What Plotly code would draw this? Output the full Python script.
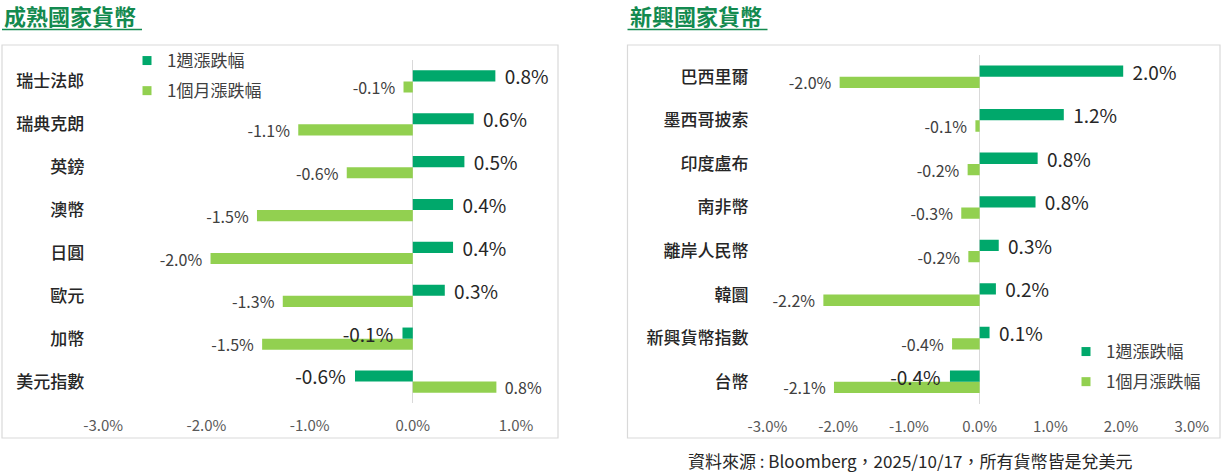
import plotly.graph_objects as go

# ---------------- data ----------------
dev_categories = ["瑞士法郎", "瑞典克朗", "英鎊", "澳幣", "日圓", "歐元", "加幣", "美元指數"]
dev_week = [0.80, 0.59, 0.50, 0.39, 0.39, 0.31, -0.10, -0.56]
dev_month = [-0.09, -1.11, -0.64, -1.51, -1.96, -1.26, -1.46, 0.81]

em_categories = ["巴西里爾", "墨西哥披索", "印度盧布", "南非幣", "離岸人民幣", "韓圜", "新興貨幣指數", "台幣"]
em_week = [2.03, 1.19, 0.82, 0.79, 0.27, 0.23, 0.14, -0.42]
em_month = [-1.98, -0.06, -0.17, -0.26, -0.16, -2.21, -0.39, -2.06]

series_names = ["1週漲跌幅", "1個月漲跌幅"]
panel_titles = ["成熟國家貨幣", "新興國家貨幣"]
source_note = "資料來源 : Bloomberg，2025/10/17，所有貨幣皆是兌美元"
dev_ticks = [-3, -2, -1, 0, 1]
em_ticks = [-3, -2, -1, 0, 1, 2, 3]

# ---------------- style ----------------
W, H = 1224, 473
FONT = "Noto Sans CJK TC, Noto Sans, sans-serif"
WEEK_COLOR = "#00A86B"
MONTH_COLOR = "#92D050"
TITLE_COLOR = "#138A4F"
BOX_COLOR = "#D9D9D9"
PAD = "\u2004"
BAR_W = 0.26


def px_x(p):
    return p / W


def px_y(p):
    return 1 - p / H


def labels(vals):
    out = []
    for v in vals:
        s = f"{v:.1f}%"
        out.append(PAD + s if v >= 0 else s + PAD)
    return out


def tick_text(ticks):
    return [f"{t:.1f}%" for t in ticks]


def bar(vals, cats, color, name, xa, ya, size, fcolor, offset):
    return go.Bar(
        x=vals, y=cats, orientation="h", name=name,
        marker=dict(color=color, line=dict(width=0)),
        width=BAR_W, offset=offset,
        text=labels(vals), textposition="outside",
        textfont=dict(size=size, color=fcolor, family=FONT),
        constraintext="none", cliponaxis=False,
        showlegend=False, hoverinfo="skip",
        xaxis=xa, yaxis=ya,
    )


def legend_marker(color, name, xa, ya, legend, group):
    return go.Scatter(
        x=[None], y=[None], mode="markers", name=name,
        marker=dict(symbol="square", size=9, color=color),
        legend=legend, legendgroup=group, showlegend=True,
        xaxis=xa, yaxis=ya, hoverinfo="skip",
    )


fig = go.Figure()
# month bars drawn first (lower half of each row), week bars on top half, drawn last
fig.add_trace(bar(dev_month, dev_categories, MONTH_COLOR, series_names[1], "x", "y", 16, "#404040", 0))
fig.add_trace(bar(dev_week, dev_categories, WEEK_COLOR, series_names[0], "x", "y", 19, "#262626", -BAR_W))
fig.add_trace(bar(em_month, em_categories, MONTH_COLOR, series_names[1], "x2", "y2", 16, "#404040", 0))
fig.add_trace(bar(em_week, em_categories, WEEK_COLOR, series_names[0], "x2", "y2", 19, "#262626", -BAR_W))

fig.add_trace(legend_marker(WEEK_COLOR, series_names[0], "x", "y", "legend", "w"))
fig.add_trace(legend_marker(MONTH_COLOR, series_names[1], "x", "y", "legend", "m"))
fig.add_trace(legend_marker(WEEK_COLOR, series_names[0], "x2", "y2", "legend2", "w2"))
fig.add_trace(legend_marker(MONTH_COLOR, series_names[1], "x2", "y2", "legend2", "m2"))

xaxis_common = dict(
    showgrid=False, zeroline=True, zerolinecolor=BOX_COLOR, zerolinewidth=1,
    showline=False, ticks="", tickmode="array",
    tickfont=dict(size=15, color="#595959", family=FONT),
    ticklabelstandoff=12, fixedrange=True, automargin=False,
)
yaxis_common = dict(
    type="category", autorange="reversed", showgrid=False, zeroline=False,
    showline=False, ticks="",
    tickfont=dict(size=17, color="#262626", family=FONT, weight=500),
    ticklabelstandoff=18, fixedrange=True, automargin=False,
)

legend_common = dict(
    bgcolor="rgba(0,0,0,0)", borderwidth=0, traceorder="grouped",
    tracegroupgap=5, itemwidth=30, xanchor="left", yanchor="top",
    font=dict(size=17, color="#404040", family=FONT),
)

fig.update_layout(
    width=W, height=H, margin=dict(l=0, r=0, t=0, b=0, autoexpand=False),
    paper_bgcolor="white", plot_bgcolor="white",
    font=dict(family=FONT, color="#262626"),
    barmode="overlay",
    showlegend=True,
    xaxis=dict(domain=[px_x(103.2), px_x(516.0)], range=[dev_ticks[0], dev_ticks[-1]],
               tickvals=dev_ticks, ticktext=tick_text(dev_ticks), anchor="y", **xaxis_common),
    yaxis=dict(domain=[px_y(403), px_y(60)], anchor="x", **yaxis_common),
    xaxis2=dict(domain=[px_x(767.5), px_x(1191.8)], range=[em_ticks[0], em_ticks[-1]],
                tickvals=em_ticks, ticktext=tick_text(em_ticks), anchor="y2", **xaxis_common),
    yaxis2=dict(domain=[px_y(403.5), px_y(55)], anchor="x2", **yaxis_common),
    legend=dict(x=px_x(127), y=px_y(43), **legend_common),
    legend2=dict(x=px_x(1066), y=px_y(334), **legend_common),
)

# panel boxes
for x0, x1 in [(2, 558), (627.5, 1220)]:
    fig.add_shape(type="rect", xref="paper", yref="paper",
                  x0=px_x(x0), x1=px_x(x1), y0=px_y(438), y1=px_y(45),
                  line=dict(color=BOX_COLOR, width=1.2), fillcolor="rgba(0,0,0,0)", layer="below")

# titles with underline
for tx, t in zip([2, 627.5], panel_titles):
    fig.add_annotation(text=f"<b>{t}</b>", xref="paper", yref="paper",
                       x=px_x(tx), y=px_y(15), xanchor="left", yanchor="middle",
                       showarrow=False, font=dict(size=22, color=TITLE_COLOR, family=FONT))
    fig.add_shape(type="line", xref="paper", yref="paper",
                  x0=px_x(tx), x1=px_x(tx + 140), y0=px_y(29.5), y1=px_y(29.5),
                  line=dict(color=TITLE_COLOR, width=1.5))

fig.add_annotation(text=source_note, xref="paper", yref="paper",
                   x=px_x(910), y=px_y(460), xanchor="center", yanchor="middle",
                   showarrow=False, font=dict(size=17, color="#262626", family=FONT))

fig.write_html("out.html", config={"displayModeBar": False},
               post_script="document.body.style.margin='0';document.body.style.overflow='hidden';")
